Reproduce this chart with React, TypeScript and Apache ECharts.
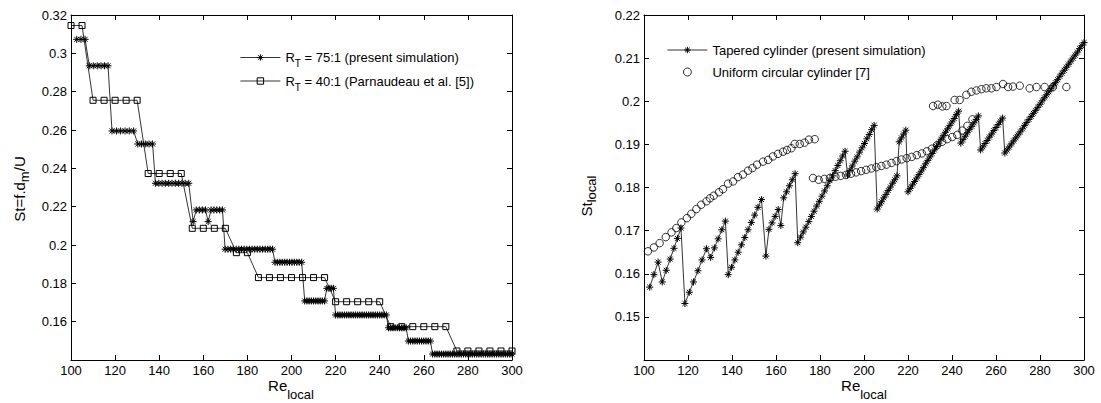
import React, { useEffect, useRef } from 'react';
import * as echarts from 'echarts';

const FONT = '"Liberation Sans", Arial, Helvetica, sans-serif';

// ---- Tapered cylinder (present simulation): local Reynolds number samples ----
const reTapered = [
  102.6, 104.5, 106.4,
  108.3, 110.1, 111.9, 113.6, 115.2, 116.8,
  118.6, 120.6, 122.5, 124.5, 126.4, 128.4,
  130.3, 132.0, 133.7, 135.4, 137.0,
  138.3, 139.8, 141.3, 142.8, 144.3, 145.8, 147.3, 148.8, 150.3, 151.8, 153.4,
  155.4,
  156.8, 158.2, 159.6, 161.0,
  162.2,
  163.5, 164.8, 166.1, 167.4, 168.7,
  169.9, 171.2, 172.4, 173.6, 174.9, 176.1, 177.3, 178.5, 179.7, 180.9, 182.1, 183.3, 184.5, 185.7, 186.9, 188.1, 189.2, 190.3, 191.4,
  192.5, 193.6, 194.7, 195.8, 196.9, 198.0, 199.1, 200.2, 201.3, 202.4, 203.5, 204.6,
  206, 207, 208, 209, 210, 211, 212, 213, 214, 215,
  216, 217, 218, 219,
  220, 221, 222, 223, 224, 225, 226, 227, 228, 229, 230, 231, 232, 233, 234, 235, 236, 237, 238, 239, 240, 241, 242, 243,
  244, 245, 246, 247, 248, 249, 250, 251, 252,
  253, 254, 255, 256, 257, 258, 259, 260, 261, 262, 263,
  264, 265, 266, 267, 268, 269, 270, 271, 272, 273, 274, 275, 276, 277, 278, 279, 280, 281, 282,
  283, 284, 285, 286, 287, 288, 289, 290, 291, 292, 293, 294, 295, 296, 297, 298, 299, 300,
];

// St = f.d_m/U (left panel), R_T = 75:1
const stTapered = [
  0.3073, 0.3073, 0.3073,
  0.2935, 0.2935, 0.2935, 0.2935, 0.2935, 0.2935,
  0.2595, 0.2595, 0.2595, 0.2595, 0.2595, 0.2595,
  0.2527, 0.2527, 0.2527, 0.2527, 0.2527,
  0.2322, 0.2322, 0.2322, 0.2322, 0.2322, 0.2322, 0.2322, 0.2322, 0.2322, 0.2322, 0.2322,
  0.2122,
  0.2183, 0.2183, 0.2183, 0.2183,
  0.2122,
  0.2183, 0.2183, 0.2183, 0.2183, 0.2183,
  0.1978, 0.1978, 0.1978, 0.1978, 0.1978, 0.1978, 0.1978, 0.1978, 0.1978, 0.1978, 0.1978, 0.1978, 0.1978, 0.1978, 0.1978, 0.1978, 0.1978, 0.1978, 0.1978,
  0.1910, 0.1910, 0.1910, 0.1910, 0.1910, 0.1910, 0.1910, 0.1910, 0.1910, 0.1910, 0.1910, 0.1910,
  0.1708, 0.1708, 0.1708, 0.1708, 0.1708, 0.1708, 0.1708, 0.1708, 0.1708, 0.1708,
  0.1774, 0.1774, 0.1774, 0.1774,
  0.1635, 0.1635, 0.1635, 0.1635, 0.1635, 0.1635, 0.1635, 0.1635, 0.1635, 0.1635, 0.1635, 0.1635,
  0.1635, 0.1635, 0.1635, 0.1635, 0.1635, 0.1635, 0.1635, 0.1635, 0.1635, 0.1635, 0.1635, 0.1635,
  0.1568, 0.1568, 0.1568, 0.1568, 0.1568, 0.1568, 0.1568, 0.1568, 0.1568,
  0.1499, 0.1499, 0.1499, 0.1499, 0.1499, 0.1499, 0.1499, 0.1499, 0.1499, 0.1499, 0.1499,
  0.1431, 0.1431, 0.1431, 0.1431, 0.1431, 0.1431, 0.1431, 0.1431, 0.1431, 0.1431, 0.1431, 0.1431, 0.1431, 0.1431, 0.1431, 0.1431, 0.1431, 0.1431, 0.1431,
  0.1431, 0.1431, 0.1431, 0.1431, 0.1431, 0.1431, 0.1431, 0.1431, 0.1431, 0.1431, 0.1431, 0.1431, 0.1431, 0.1431, 0.1431, 0.1431, 0.1431, 0.1431,
];

// St_local (right panel), tapered cylinder
const stLocalTapered = [
  0.1569, 0.1598, 0.1627,
  0.1581, 0.1608, 0.1634, 0.1659, 0.1682, 0.1706,
  0.1531, 0.1557, 0.1581, 0.1607, 0.1632, 0.1658,
  0.1638, 0.1660, 0.1681, 0.1702, 0.1722,
  0.1598, 0.1615, 0.1632, 0.1650, 0.1667, 0.1684, 0.1702, 0.1719, 0.1736, 0.1754, 0.1772,
  0.1641,
  0.1703, 0.1718, 0.1733, 0.1749,
  0.1712,
  0.1776, 0.1790, 0.1804, 0.1818, 0.1832,
  0.1672, 0.1685, 0.1697, 0.1708, 0.1721, 0.1733, 0.1745, 0.1757, 0.1768, 0.1780, 0.1792, 0.1804, 0.1816, 0.1827, 0.1839, 0.1851, 0.1862, 0.1873, 0.1884,
  0.1829, 0.1840, 0.1850, 0.1861, 0.1871, 0.1882, 0.1892, 0.1902, 0.1913, 0.1923, 0.1934, 0.1944,
  0.1750, 0.1759, 0.1767, 0.1776, 0.1784, 0.1793, 0.1801, 0.1810, 0.1818, 0.1827,
  0.1906, 0.1915, 0.1924, 0.1933,
  0.1790, 0.1798, 0.1806, 0.1814, 0.1822, 0.1830, 0.1838, 0.1846, 0.1855, 0.1863, 0.1871, 0.1879,
  0.1887, 0.1895, 0.1903, 0.1912, 0.1920, 0.1928, 0.1936, 0.1944, 0.1952, 0.1960, 0.1969, 0.1977,
  0.1903, 0.1911, 0.1919, 0.1927, 0.1935, 0.1942, 0.1950, 0.1958, 0.1966,
  0.1887, 0.1894, 0.1902, 0.1909, 0.1917, 0.1924, 0.1932, 0.1939, 0.1946, 0.1954, 0.1961,
  0.1880, 0.1887, 0.1894, 0.1901, 0.1908, 0.1915, 0.1922, 0.1929, 0.1936, 0.1944, 0.1951, 0.1958, 0.1965, 0.1972, 0.1979, 0.1986, 0.1993, 0.2001, 0.2008,
  0.2015, 0.2022, 0.2029, 0.2036, 0.2043, 0.2050, 0.2058, 0.2065, 0.2072, 0.2079, 0.2086, 0.2093, 0.2100, 0.2107, 0.2114, 0.2122, 0.2129, 0.2136,
];

// R_T = 40:1 (Parnaudeau et al. [5])
const reParnaudeau = [
  100, 105, 110, 115, 120, 125, 130, 135, 140, 145, 150, 155, 160, 165, 170, 175, 180, 185, 190, 195, 200,
  205, 210, 215, 220, 225, 230, 235, 240, 245, 250, 255, 260, 265, 270, 275, 280, 285, 290, 295, 300,
];
const stParnaudeau = [
  0.3145, 0.3145,
  0.2755, 0.2755, 0.2755, 0.2755, 0.2755,
  0.2373, 0.2373, 0.2373, 0.2373,
  0.2087, 0.2087, 0.2087, 0.2087,
  0.1960, 0.1960,
  0.1830, 0.1830, 0.1830, 0.1830, 0.1830, 0.1830, 0.1830,
  0.1704, 0.1704, 0.1704, 0.1704, 0.1704,
  0.1574, 0.1574, 0.1574, 0.1574, 0.1574, 0.1574,
  0.1447, 0.1447, 0.1447, 0.1447, 0.1447, 0.1447,
];

// Uniform circular cylinder [7]
const reUniform = [
  101.8, 104.5, 107.1, 109.9, 112.5, 114.7, 117.0, 119.5, 121.5, 123.8, 126.0, 128.4, 130.0, 131.7, 134.1, 135.9, 138.2, 140.5,
  142.7, 145.0, 147.3, 149.3, 151.4, 154.1, 156.4, 158.6, 160.9, 163.2, 165.0, 167.0, 168.5, 170.8, 173.0, 175.0, 177.6,
  176.8, 179.4, 182.0, 184.5, 187.0, 189.4, 191.8, 194.1, 196.4, 198.7, 201.0, 203.3, 205.6, 207.9, 210.2, 212.5,
  214.8, 217.1, 219.4, 221.7, 224.0, 226.3, 228.6, 230.9, 233.2, 235.5, 237.8, 240.1, 242.4, 244.7, 247.0, 249.3,
  231.4, 233.6, 235.6, 237.5, 241.2, 243.5, 246.5, 248.8, 251.1, 253.4, 255.6, 257.9, 260.2, 263.2, 265.5, 267.7,
  270.8, 275.3, 278.4, 282.1, 285.9, 292.0,
];
const stUniform = [
  0.1652, 0.1661, 0.1671, 0.1685, 0.1696, 0.1706, 0.1719, 0.1729, 0.1739, 0.1750, 0.1760, 0.1768, 0.1775, 0.1781, 0.1789, 0.1796, 0.1809, 0.1814,
  0.1824, 0.1830, 0.1839, 0.1845, 0.1853, 0.1860, 0.1864, 0.1872, 0.1878, 0.1883, 0.1887, 0.1891, 0.1901, 0.1901, 0.1904, 0.1911, 0.1912,
  0.1822, 0.1818, 0.1820, 0.1822, 0.1825, 0.1827, 0.1829, 0.1832, 0.1835, 0.1838, 0.1841, 0.1844, 0.1847, 0.1850, 0.1853, 0.1857,
  0.1861, 0.1865, 0.1868, 0.1871, 0.1875, 0.1879, 0.1884, 0.1890, 0.1898, 0.1906, 0.1912, 0.1917, 0.1922, 0.1932, 0.1943, 0.1958,
  0.1989, 0.1992, 0.1988, 0.1989, 0.2003, 0.2003, 0.2015, 0.2022, 0.2025, 0.2028, 0.2030, 0.2030, 0.2033, 0.2040, 0.2033, 0.2034,
  0.2036, 0.2030, 0.2033, 0.2033, 0.2033, 0.2033,
];

// Axis ranges
const xRange = [100, 300, 20];
const yLeftRange = [0.14, 0.32, 0.02];
const yRightRange = [0.14, 0.22, 0.01];

const NAME_75 = 'R_T = 75:1 (present simulation)';
const NAME_40 = 'R_T = 40:1 (Parnaudeau et al. [5])';
const NAME_TAPER = 'Tapered cylinder (present simulation)';
const NAME_UNIFORM = 'Uniform circular cylinder [7]';

const ASTERISK = 'path://M10 0L10 20M0 10L20 10M2.93 2.93L17.07 17.07M2.93 17.07L17.07 2.93';

const pairs = (xs: number[], ys: number[]) => xs.map((x, i) => [x, ys[i]]);

const tickStyle = { show: true, inside: true, length: 5, lineStyle: { color: '#000', width: 1 } };
const lineAx = { show: true, onZero: false, lineStyle: { color: '#000', width: 1 } };

function xAxes(grid: number) {
  const [min, max, interval] = xRange;
  const common: any = {
    type: 'value', gridIndex: grid, min, max, interval,
    splitLine: { show: false }, axisLine: lineAx, axisTick: tickStyle,
  };
  return [
    { ...common, position: 'bottom', axisLabel: { show: true, color: '#000', fontSize: 13, fontFamily: FONT, margin: 4 } },
    { ...common, position: 'top', axisLabel: { show: false } },
  ];
}

function yAxes(grid: number, range: number[]) {
  const [min, max, interval] = range;
  const common: any = {
    type: 'value', gridIndex: grid, min, max, interval,
    splitLine: { show: false }, axisLine: lineAx, axisTick: tickStyle,
  };
  return [
    {
      ...common, position: 'left',
      axisLabel: {
        show: true, color: '#000', fontSize: 13, fontFamily: FONT, margin: 4,
        formatter: (v: number) => (Math.abs(v - min) < 1e-9 ? '' : String(parseFloat(v.toFixed(3)))),
      },
    },
    { ...common, position: 'right', axisLabel: { show: false } },
  ];
}

const titleRich = (sub: number) => ({
  m: { font: `15px ${FONT}`, fill: '#000', lineHeight: 16 + 2 * sub },
  s: { font: `13px ${FONT}`, fill: '#000', lineHeight: 16, verticalAlign: 'bottom' },
});

function titleText(text: string, x: number, y: number, rotation: number, sub: number) {
  return {
    type: 'text', x, y, rotation, silent: true,
    style: {
      text, rich: titleRich(sub), fill: '#000', font: `15px ${FONT}`,
      align: 'center', verticalAlign: 'middle', textAlign: 'center', textVerticalAlign: 'middle',
    },
  };
}

const legendRich = {
  r: { fontSize: 13, fontFamily: FONT, color: '#000', lineHeight: 22 },
  s: { fontSize: 10, fontFamily: FONT, color: '#000', lineHeight: 14, verticalAlign: 'bottom' },
};

const legendItemStyle = { color: 'rgba(0,0,0,0)', borderColor: '#000', borderWidth: 1 };

const option: any = {
  animation: false,
  backgroundColor: '#fff',
  grid: [
    { left: 71, top: 15, width: 441, height: 345 },
    { left: 644, top: 15, width: 440, height: 345 },
  ],
  xAxis: [...xAxes(0), ...xAxes(1)],
  yAxis: [...yAxes(0, yLeftRange), ...yAxes(1, yRightRange)],
  legend: [
    {
      data: [NAME_75, NAME_40], orient: 'vertical', left: 235, top: 46,
      itemWidth: 40, itemHeight: 8, itemGap: 6, selectedMode: false,
      formatter: (n: string) => (n === NAME_75
        ? '{r|R}{s|T}{r| = 75:1 (present simulation)}'
        : '{r|R}{s|T}{r| = 40:1 (Parnaudeau et al. [5])}'),
      textStyle: { color: '#000', fontSize: 13, fontFamily: FONT, rich: legendRich },
      itemStyle: legendItemStyle, lineStyle: { color: '#000', width: 0.8 },
    },
    {
      data: [NAME_TAPER, NAME_UNIFORM], orient: 'vertical', left: 662, top: 37,
      itemWidth: 40, itemHeight: 8, itemGap: 6, selectedMode: false,
      textStyle: { color: '#000', fontSize: 13, fontFamily: FONT, lineHeight: 16 },
      itemStyle: legendItemStyle, lineStyle: { color: '#000', width: 0.8 },
    },
  ],
  graphic: [
    titleText('{m|Re}{s|local}', 291, 385, 0, 8),
    titleText('{m|Re}{s|local}', 864, 385, 0, 8),
    titleText('{m|St=f.d}{s|m}{m|/U}', 19, 189, Math.PI / 2, 4),
    titleText('{m|St}{s|local}', 586, 196, Math.PI / 2, 4),
  ],
  series: [
    {
      name: NAME_40, type: 'line', xAxisIndex: 0, yAxisIndex: 0,
      data: pairs(reParnaudeau, stParnaudeau),
      symbol: 'rect', symbolSize: 6, showAllSymbol: true, silent: true,
      lineStyle: { color: '#000', width: 0.8 }, itemStyle: { ...legendItemStyle },
      emphasis: { disabled: true },
    },
    {
      name: NAME_75, type: 'line', xAxisIndex: 0, yAxisIndex: 0,
      data: pairs(reTapered, stTapered),
      symbol: ASTERISK, symbolSize: 7, showAllSymbol: true, silent: true,
      lineStyle: { color: '#000', width: 0.8 }, itemStyle: { ...legendItemStyle },
      emphasis: { disabled: true },
    },
    {
      name: NAME_TAPER, type: 'line', xAxisIndex: 2, yAxisIndex: 2,
      data: pairs(reTapered, stLocalTapered),
      symbol: ASTERISK, symbolSize: 7, showAllSymbol: true, silent: true,
      lineStyle: { color: '#000', width: 0.8 }, itemStyle: { ...legendItemStyle },
      emphasis: { disabled: true },
    },
    {
      name: NAME_UNIFORM, type: 'scatter', xAxisIndex: 2, yAxisIndex: 2,
      data: pairs(reUniform, stUniform),
      symbol: 'circle', symbolSize: 7.5, silent: true,
      itemStyle: { ...legendItemStyle },
      emphasis: { disabled: true },
    },
  ],
};

export default function App() {
  const ref = useRef<HTMLDivElement>(null);
  useEffect(() => {
    document.body.style.margin = '0';
    const chart = echarts.init(ref.current as HTMLDivElement, null, { renderer: 'svg', width: 1101, height: 403 });
    chart.setOption(option);
    return () => chart.dispose();
  }, []);
  return (
    <div
      ref={ref}
      style={{ position: 'fixed', left: 0, top: 0, width: 1101, height: 403, background: '#fff' }}
    />
  );
}
